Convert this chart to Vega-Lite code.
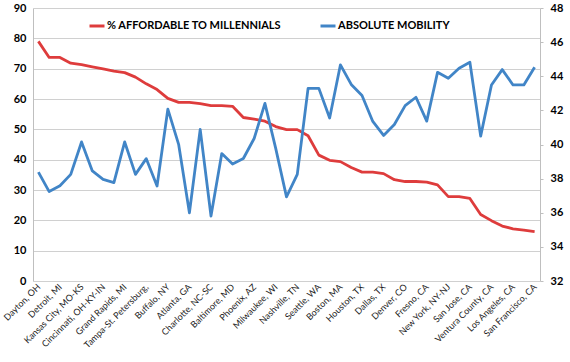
{
  "$schema": "https://vega.github.io/schema/vega-lite/v6.json",
  "autosize": "none",
  "width": 507,
  "height": 273,
  "padding": {"left": 33, "top": 8, "right": 30, "bottom": 81},
  "background": "white",
  "config": {
    "view": {"stroke": null},
    "font": "Lato",
    "axis": {"labelFont": "Lato", "titleFont": "Lato"},
    "legend": {"labelFont": "Lato"}
  },
  "data": {
    "values": [
      {"i": 0, "city": "Dayton, OH", "afford": 79.0, "mobility": 38.38},
      {"i": 1, "city": "Cleveland, OH", "afford": 73.7, "mobility": 37.24},
      {"i": 2, "city": "Detroit, MI", "afford": 73.7, "mobility": 37.58},
      {"i": 3, "city": "St. Louis, MO-IL", "afford": 71.8, "mobility": 38.25},
      {"i": 4, "city": "Kansas City, MO-KS", "afford": 71.3, "mobility": 40.15},
      {"i": 5, "city": "Indianapolis, IN", "afford": 70.6, "mobility": 38.45},
      {"i": 6, "city": "Cincinnati, OH-KY-IN", "afford": 69.9, "mobility": 37.96},
      {"i": 7, "city": "Pittsburgh, PA", "afford": 69.2, "mobility": 37.77},
      {"i": 8, "city": "Grand Rapids, MI", "afford": 68.7, "mobility": 40.15},
      {"i": 9, "city": "Columbus, OH", "afford": 67.2, "mobility": 38.25},
      {"i": 10, "city": "Tampa-St. Petersburg,", "afford": 65.0, "mobility": 39.17},
      {"i": 11, "city": "Jacksonville, FL", "afford": 63.1, "mobility": 37.57},
      {"i": 12, "city": "Buffalo, NY", "afford": 60.2, "mobility": 42.07},
      {"i": 13, "city": "Orlando, FL", "afford": 58.9, "mobility": 40.01},
      {"i": 14, "city": "Atlanta, GA", "afford": 58.9, "mobility": 36.0},
      {"i": 15, "city": "Memphis, TN", "afford": 58.5, "mobility": 40.89},
      {"i": 16, "city": "Charlotte, NC-SC", "afford": 57.8, "mobility": 35.81},
      {"i": 17, "city": "Chicago, IL", "afford": 57.8, "mobility": 39.47},
      {"i": 18, "city": "Baltimore, MD", "afford": 57.6, "mobility": 38.86},
      {"i": 19, "city": "Minneapolis-St. Paul, MN-WI", "afford": 53.9, "mobility": 39.18},
      {"i": 20, "city": "Phoenix, AZ", "afford": 53.4, "mobility": 40.35},
      {"i": 21, "city": "Las Vegas, NV", "afford": 52.7, "mobility": 42.41},
      {"i": 22, "city": "Milwaukee, WI", "afford": 50.9, "mobility": 39.77},
      {"i": 23, "city": "Philadelphia, PA", "afford": 49.9, "mobility": 36.93},
      {"i": 24, "city": "Nashville, TN", "afford": 49.9, "mobility": 38.25},
      {"i": 25, "city": "Raleigh, NC", "afford": 47.9, "mobility": 43.29},
      {"i": 26, "city": "Seattle, WA", "afford": 41.5, "mobility": 43.29},
      {"i": 27, "city": "Salt Lake City, UT", "afford": 39.8, "mobility": 41.55},
      {"i": 28, "city": "Boston, MA", "afford": 39.35, "mobility": 44.67},
      {"i": 29, "city": "Austin, TX", "afford": 37.4, "mobility": 43.52},
      {"i": 30, "city": "Houston, TX", "afford": 35.9, "mobility": 42.87},
      {"i": 31, "city": "Portland, OR", "afford": 35.9, "mobility": 41.35},
      {"i": 32, "city": "Dallas, TX", "afford": 35.4, "mobility": 40.53},
      {"i": 33, "city": "Sacramento, CA", "afford": 33.4, "mobility": 41.17},
      {"i": 34, "city": "Denver, CO", "afford": 32.8, "mobility": 42.28},
      {"i": 35, "city": "Riverside-San Bernardino, CA", "afford": 32.8, "mobility": 42.77},
      {"i": 36, "city": "Fresno, CA", "afford": 32.6, "mobility": 41.37},
      {"i": 37, "city": "Honolulu, HI", "afford": 31.7, "mobility": 44.23},
      {"i": 38, "city": "New York, NY-NJ", "afford": 27.8, "mobility": 43.88},
      {"i": 39, "city": "San Diego, CA", "afford": 27.8, "mobility": 44.47},
      {"i": 40, "city": "San Jose, CA", "afford": 27.2, "mobility": 44.82},
      {"i": 41, "city": "Miami-Fort Lauderdale, FL", "afford": 21.9, "mobility": 40.49},
      {"i": 42, "city": "Ventura County, CA", "afford": 19.9, "mobility": 43.49},
      {"i": 43, "city": "Orange County, CA", "afford": 18.1, "mobility": 44.39},
      {"i": 44, "city": "Los Angeles, CA", "afford": 17.2, "mobility": 43.49},
      {"i": 45, "city": "Oakland, CA", "afford": 16.8, "mobility": 43.49},
      {"i": 46, "city": "San Francisco, CA", "afford": 16.3, "mobility": 44.53}
    ]
  },
  "encoding": {
    "x": {
      "field": "city",
      "type": "nominal",
      "sort": {"field": "i", "op": "min", "order": "ascending"},
      "scale": {"type": "point", "padding": 0.5},
      "axis": {
        "title": null,
        "values": ["Dayton, OH", "Detroit, MI", "Kansas City, MO-KS", "Cincinnati, OH-KY-IN", "Grand Rapids, MI", "Tampa-St. Petersburg,", "Buffalo, NY", "Atlanta, GA", "Charlotte, NC-SC", "Baltimore, MD", "Phoenix, AZ", "Milwaukee, WI", "Nashville, TN", "Seattle, WA", "Boston, MA", "Houston, TX", "Dallas, TX", "Denver, CO", "Fresno, CA", "New York, NY-NJ", "San Jose, CA", "Ventura County, CA", "Los Angeles, CA", "San Francisco, CA"],
        "labelAngle": -45,
        "labelAlign": "right",
        "labelBaseline": "middle",
        "labelFontSize": 9,
        "labelColor": "#222222",
        "labelPadding": 4,
        "ticks": false,
        "domain": false,
        "grid": false,
        "labelOverlap": false
      }
    }
  },
  "layer": [
    {
      "mark": {"type": "line", "strokeWidth": 2.8, "strokeJoin": "round"},
      "encoding": {
        "y": {
          "field": "afford",
          "type": "quantitative",
          "scale": {"domain": [0, 90], "nice": false, "zero": false},
          "axis": {
            "title": null,
            "values": [0, 10, 20, 30, 40, 50, 60, 70, 80, 90],
            "labelFontSize": 11,
            "labelFontWeight": "bold",
            "labelColor": "#000000",
            "ticks": false,
            "labelPadding": 7,
            "domainColor": "#bfbfbf",
            "domainWidth": 1,
            "gridColor": "#d0d0d0",
            "gridWidth": 1.2
          }
        },
        "color": {
          "datum": "% AFFORDABLE TO MILLENNIALS",
          "type": "nominal",
          "scale": {
            "domain": ["% AFFORDABLE TO MILLENNIALS", "ABSOLUTE MOBILITY"],
            "range": ["#de3c3c", "#4185c7"]
          },
          "legend": {
            "title": null,
            "orient": "none",
            "direction": "horizontal",
            "legendX": 55,
            "legendY": 9,
            "symbolType": "stroke",
            "symbolSize": 225,
            "symbolStrokeWidth": 3,
            "labelFontSize": 11,
            "labelFontWeight": "bold",
            "labelColor": "#000000",
            "labelOffset": 1,
            "labelLimit": 400,
            "columnPadding": 32
          }
        }
      }
    },
    {
      "mark": {"type": "line", "strokeWidth": 2.8, "strokeJoin": "round"},
      "encoding": {
        "y": {
          "field": "mobility",
          "type": "quantitative",
          "scale": {"domain": [32, 48], "nice": false, "zero": false},
          "axis": {
            "title": null,
            "orient": "right",
            "values": [32, 34, 36, 38, 40, 42, 44, 46, 48],
            "labelFontSize": 11,
            "labelFontWeight": "bold",
            "labelColor": "#000000",
            "ticks": true,
            "tickSize": 3,
            "tickColor": "#bfbfbf",
            "labelPadding": 7,
            "domainColor": "#bfbfbf",
            "domainWidth": 1,
            "grid": false
          }
        },
        "color": {"datum": "ABSOLUTE MOBILITY", "type": "nominal"}
      }
    },
    {
      "mark": {"type": "rule", "color": "#bfbfbf", "strokeWidth": 1},
      "encoding": {"y": {"datum": 0, "type": "quantitative", "scale": {"domain": [0, 90]}, "axis": null}}
    }
  ],
  "resolve": {"scale": {"y": "independent"}}
}
